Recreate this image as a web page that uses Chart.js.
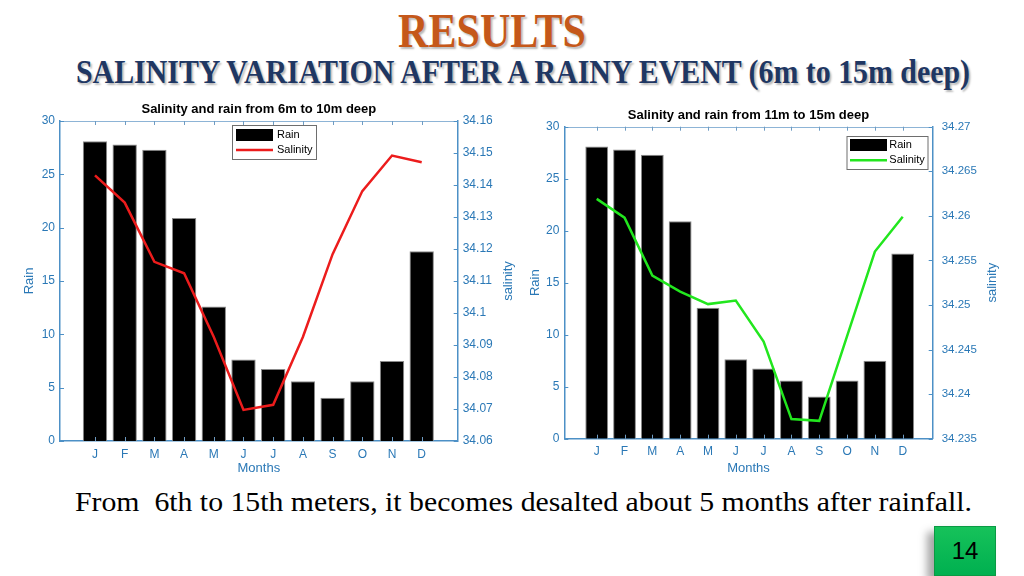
<!DOCTYPE html>
<html>
<head>
<meta charset="utf-8">
<script src="https://cdn.jsdelivr.net/npm/chart.js@4.4.1/dist/chart.umd.min.js"></script>
<style>
html,body{margin:0;padding:0;background:#fff;width:1024px;height:576px;overflow:hidden;}
body{position:relative;font-family:"Liberation Serif","Times New Roman",serif;}
.fit{position:absolute;white-space:pre;line-height:1;transform-origin:0 0;}
#h1{left:398px;top:6.8px;font-size:48px;font-weight:bold;color:#c5581a;text-shadow:2px 2px 2px rgba(0,0,0,0.28);}
#h2{left:76px;top:56.4px;font-size:33px;font-weight:bold;color:#1f3763;text-shadow:2px 2px 2px rgba(0,0,0,0.28);}
#foot{left:75px;top:488.2px;font-size:28px;color:#000;}
.cv{position:absolute;}
#wrapL{left:0;top:95px;width:520px;height:381px;}
#wrapR{left:520px;top:95px;width:504px;height:381px;}
#page{position:absolute;left:934px;top:526px;width:60px;height:48px;background:linear-gradient(#16c25a,#00b050);border:1px solid #0a9a44;box-shadow:-7px 6px 8px rgba(0,0,0,0.35);font-family:"Liberation Sans",Arial,sans-serif;font-size:24px;color:#000;text-align:center;line-height:48px;}
</style>
</head>
<body>
<div id="h1" class="fit" data-w="188">RESULTS</div>
<div id="h2" class="fit" data-w="894">SALINITY VARIATION AFTER A RAINY EVENT (6m to 15m deep)</div>
<div id="foot" class="fit" data-w="897">From  6th to 15th meters, it becomes desalted about 5 months after rainfall.</div>
<div id="wrapL" class="cv"><canvas id="cL" width="520" height="381"></canvas></div>
<div id="wrapR" class="cv"><canvas id="cR" width="504" height="381"></canvas></div>
<div id="page">14</div>
<script>
// ---- data ----
const months = ['J','F','M','A','M','J','J','A','S','O','N','D'];
const monthIndex = [0,1,2,3,4,5,6,7,8,9,10,11];
const rain = [28.1, 27.8, 27.3, 20.9, 12.6, 7.65, 6.75, 5.6, 4.05, 5.6, 7.5, 17.8];
const salinity6to10 = [34.1430, 34.1345, 34.1160, 34.1124, 34.0925, 34.0697, 34.0713, 34.0925, 34.1184, 34.1381, 34.1492, 34.1471];
const salinity11to15 = [34.2619, 34.2598, 34.2533, 34.2515, 34.2501, 34.2505, 34.2459, 34.2372, 34.2370, 34.2465, 34.2560, 34.2599];
const rainTicks = [0, 5, 10, 15, 20, 25, 30];
const salTicks6to10 = [34.06, 34.07, 34.08, 34.09, 34.1, 34.11, 34.12, 34.13, 34.14, 34.15, 34.16];
const salTicks11to15 = [34.235, 34.24, 34.245, 34.25, 34.255, 34.26, 34.265, 34.27];
const titleLeft = 'Salinity and rain from 6m to 10m deep';
const titleRight = 'Salinity and rain from 11m to 15m deep';

// ---- fit header texts ----
document.querySelectorAll('.fit').forEach(el => {
  const w = el.getBoundingClientRect().width;
  const target = parseFloat(el.dataset.w);
  el.style.transform = 'scaleX(' + (target / w) + ')';
});

Chart.defaults.font.family = '"Liberation Sans", Arial, Helvetica, sans-serif';
const BLUE_TXT = '#2a78b6';
const BLUE_AX = '#4d90c6';

const decor = {
  id: 'decor',
  afterDraw(chart, args, o) {
    const {ctx, chartArea: a, scales} = chart;
    ctx.save();
    const seg = (x1, y1, x2, y2) => { ctx.beginPath(); ctx.moveTo(x1, y1); ctx.lineTo(x2, y2); ctx.stroke(); };
    ctx.lineWidth = 1;
    ctx.strokeStyle = '#8db4d6';
    seg(a.left, Math.round(a.top) + 0.5, a.right, Math.round(a.top) + 0.5);
    // inward ticks
    ctx.strokeStyle = '#6f9cc3';
    scales.x.ticks.forEach(t => {
      const px = Math.round(scales.x.getPixelForValue(t.value)) + 0.5;
      seg(px, a.bottom, px, a.bottom - 4);
      seg(px, a.top, px, a.top + 4);
    });
    ctx.strokeStyle = BLUE_AX;
    scales.y.ticks.forEach(t => {
      const py = Math.round(scales.y.getPixelForValue(t.value)) + 0.5;
      seg(a.left, py, a.left + 4, py);
    });
    scales.y2.ticks.forEach(t => {
      const py = Math.round(scales.y2.getPixelForValue(t.value)) + 0.5;
      seg(a.right - 4, py, a.right, py);
    });
    // right axis title (reads bottom-to-top)
    ctx.fillStyle = BLUE_TXT;
    ctx.font = '13px "Liberation Sans", Arial, sans-serif';
    ctx.textAlign = 'center';
    ctx.textBaseline = 'middle';
    ctx.translate(o.rightTitleX, (a.top + a.bottom) / 2);
    ctx.rotate(-Math.PI / 2);
    ctx.fillText('salinity', 0, 0);
    ctx.restore();
    // legend
    const L = o.legend;
    ctx.save();
    ctx.fillStyle = '#fff';
    ctx.fillRect(L.x, L.y, L.w, L.h);
    ctx.strokeStyle = '#6e6e6e';
    ctx.lineWidth = 1;
    ctx.strokeRect(L.x + 0.5, L.y + 0.5, L.w, L.h);
    ctx.fillStyle = '#000';
    ctx.fillRect(L.sx, L.y1 - 6, L.sw, 12);
    ctx.strokeStyle = o.lineColor;
    ctx.lineWidth = 2.5;
    ctx.beginPath(); ctx.moveTo(L.sx, L.y2); ctx.lineTo(L.sx + L.sw, L.y2); ctx.stroke();
    ctx.fillStyle = '#000';
    ctx.font = '11px "Liberation Sans", Arial, sans-serif';
    ctx.textAlign = 'left';
    ctx.textBaseline = 'middle';
    ctx.fillText('Rain', L.tx, L.y1);
    ctx.fillText('Salinity', L.tx, L.y2);
    ctx.restore();
  }
};

function makeChart(id, p) {
  const fixW = w => (s) => { s.width = w; };
  return new Chart(document.getElementById(id), {
    type: 'bar',
    data: {
      datasets: [
        {
          type: 'line', label: 'Salinity', yAxisID: 'y2', order: 0,
          data: monthIndex.map((m, i) => ({x: m, y: p.sal[i]})),
          borderColor: p.lineColor, borderWidth: 2.5, pointRadius: 0, tension: 0, fill: false
        },
        {
          type: 'bar', label: 'Rain', yAxisID: 'y', order: 1,
          data: monthIndex.map((m, i) => ({x: m, y: rain[i]})),
          backgroundColor: '#000', borderColor: '#8a8a8a', borderWidth: 1,
          barPercentage: 0.82, categoryPercentage: 1
        }
      ]
    },
    options: {
      responsive: false, animation: false, devicePixelRatio: 1,
      layout: {padding: {left: p.padLeft, right: 0, top: 0, bottom: 0}},
      plugins: {
        legend: {display: false}, tooltip: {enabled: false},
        title: {
          display: true, text: p.title, fullSize: false, color: '#000',
          font: {size: 13, weight: 'bold', lineHeight: 1.2},
          padding: {top: p.titleTop, bottom: p.titleBottom}
        },
        decor: {rightTitleX: p.rightTitleX, legend: p.legend, lineColor: p.lineColor}
      },
      scales: {
        x: {
          type: 'linear', position: 'bottom', min: p.xmin, max: p.xmax, offset: false,
          afterBuildTicks: s => { s.ticks = monthIndex.map(v => ({value: v})); },
          afterFit: s => { s.height = p.xHeight; },
          ticks: {autoSkip: false, maxRotation: 0, color: BLUE_TXT, font: {size: 12}, padding: p.xPad,
                  callback: v => months[v] ?? ''},
          grid: {display: false, drawTicks: false, offset: false},
          border: {display: true, color: BLUE_AX, width: 1.5},
          title: {display: true, text: 'Months', color: BLUE_TXT, font: {size: 13, lineHeight: 1.2}, padding: 0}
        },
        y: {
          type: 'linear', position: 'left', min: 0, max: 30,
          afterBuildTicks: s => { s.ticks = rainTicks.map(v => ({value: v})); },
          afterFit: fixW(p.yWidth),
          ticks: {color: BLUE_TXT, font: {size: 12}, padding: 5},
          grid: {display: false, drawTicks: false},
          border: {display: true, color: BLUE_AX, width: 1.5},
          title: {display: true, text: 'Rain', color: BLUE_TXT, font: {size: 13, lineHeight: 1.2}, padding: 0}
        },
        y2: {
          type: 'linear', position: 'right', min: p.salTicks[0], max: p.salTicks[p.salTicks.length - 1],
          afterBuildTicks: s => { s.ticks = p.salTicks.map(v => ({value: v})); },
          afterFit: fixW(p.y2Width),
          ticks: {color: BLUE_TXT, font: {size: p.y2Font}, padding: p.y2Pad,
                  callback: v => String(Number(v.toFixed(4)))},
          grid: {display: false, drawTicks: false},
          border: {display: true, color: BLUE_AX, width: 1.5}
        }
      }
    },
    plugins: [decor]
  });
}

makeChart('cL', {
  title: titleLeft, sal: salinity6to10, salTicks: salTicks6to10, lineColor: '#ec1c1c',
  padLeft: 21.2, yWidth: 38.8, y2Width: 62.3, xHeight: 35,
  titleTop: 6.2, titleBottom: 4.2, xmin: -1.178, xmax: 12.212, xPad: 6.4,
  y2Font: 12, y2Pad: 5, rightTitleX: 508,
  legend: {x: 232, y: 30, w: 84, h: 34, sx: 236, sw: 37, tx: 277, y1: 40, y2: 55}
});
makeChart('cR', {
  title: titleRight, sal: salinity11to15, salTicks: salTicks11to15, lineColor: '#22e61e',
  padLeft: 7.2, yWidth: 37.1, y2Width: 91.3, xHeight: 37.3,
  titleTop: 12.7, titleBottom: 3.4, xmin: -1.165, xmax: 12.078, xPad: 5.7,
  y2Font: 11.5, y2Pad: 9, rightTitleX: 472.7,
  legend: {x: 326.5, y: 41, w: 81, h: 33, sx: 330, sw: 37, tx: 369.3, y1: 50, y2: 65.3}
});
</script>
</body>
</html>
